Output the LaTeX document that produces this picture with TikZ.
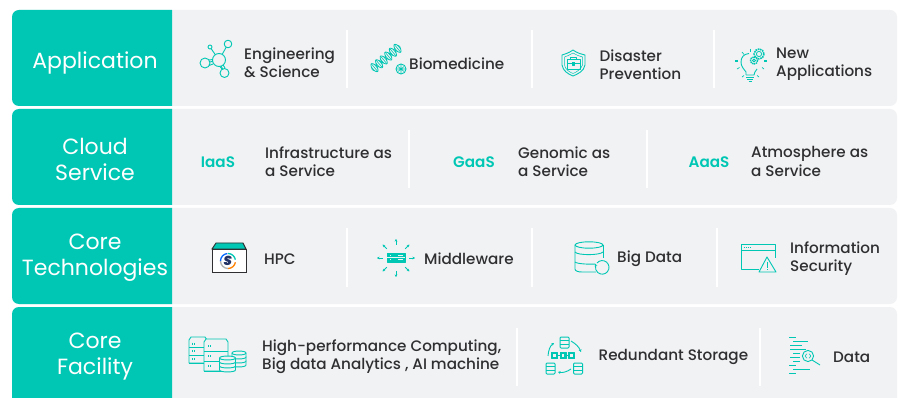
\documentclass[tikz,border=0pt]{standalone}
\usepackage{fontspec}
\setmainfont{Poppins}
\newfontfamily\medf{Poppins Medium}
\newfontfamily\semif{Poppins SemiBold}
\usetikzlibrary{arrows.meta}
\definecolor{tealc}{HTML}{00C7B4}
\definecolor{panel}{HTML}{F1F2F4}
\definecolor{inkc}{HTML}{2F2F31}
\tikzset{
  panelbox/.style={fill=panel,draw=none,rounded corners=7pt},
  headtext/.style={text=white,font=\fontsize{22}{26}\selectfont,align=center,inner sep=0pt},
  itemtext/.style={text=inkc,font=\medf\fontsize{15.2}{18.4}\selectfont,align=left,anchor=west,inner sep=0pt},
  abbrtext/.style={text=tealc,font=\semif\fontsize{15.2}{18}\selectfont,anchor=center,inner sep=0pt},
  sepline/.style={draw=white,line width=1.6pt},
  ico/.style={draw=tealc,line width=0.9pt,fill=none,line join=round},
  icof/.style={draw=tealc,line width=0.9pt,fill=panel,line join=round},
  tinyarrow/.style={draw=tealc,line width=0.9pt,-{Stealth[length=2.6pt,width=2.8pt]}},
}
\newcommand{\srv}[5]{%
  \draw[icof] (#1,#2+3) -- (#1+2,#2) -- (#3-2,#2) -- (#3,#2+3) -- (#3,#4) -- (#1,#4) -- cycle;
  \foreach \k in {0,1,2}{
    \draw[ico,line width=.7pt] (#1,{#2+3+(#4-#2-3)*(\k+1)/3}) -- (#3,{#2+3+(#4-#2-3)*(\k+1)/3});
    \draw[ico,line width=.7pt] (#1+#5,{#2+3+(#4-#2-3)*(\k+.35)/3}) -- ++(0,2) (#1+#5+2,{#2+3+(#4-#2-3)*(\k+.35)/3}) -- ++(0,2);
  }}
% cx, top y, half width, layer height
\newcommand{\dbicon}[4]{%
  \foreach \k in {2,1,0}{
    \pgfmathsetmacro{\yt}{#2+\k*#4}
    \pgfmathsetmacro{\yb}{#2+\k*#4+#4}
    \draw[icof] (#1-#3,\yt) -- (#1-#3,\yb) .. controls (#1-#3,\yb+2.6) and (#1+#3,\yb+2.6) .. (#1+#3,\yb) -- (#1+#3,\yt) .. controls (#1+#3,\yt-2.6) and (#1-#3,\yt-2.6) .. (#1-#3,\yt) -- cycle;
  }
  \draw[ico] (#1-#3,#2) .. controls (#1-#3,#2+2.6) and (#1+#3,#2+2.6) .. (#1+#3,#2);}
\newcommand{\smalldb}[2]{%
  \draw[icof,rounded corners=1pt,line width=1pt] (#1-4.5,#2) rectangle (#1+4.5,#2+11);
  \draw[ico,line width=.9pt] (#1-4.5,#2+3.6) -- (#1+4.5,#2+3.6) (#1-4.5,#2+7.3) -- (#1+4.5,#2+7.3);}
\begin{document}
\begin{tikzpicture}[x=1pt,y=-1pt]
\useasboundingbox (0,0) rectangle (900,398);
\fill[white] (0,0) rectangle (900,398);
\begin{scope}
\clip (0,0) rectangle (900,398);
% rows
\foreach \t/\b in {10/106,109/205,208/304,307/410}{
  \fill[panelbox] (12,\t) rectangle (897,\b);
  \begin{scope}
    \clip (12,\t) rectangle (172,\b);
    \fill[tealc,rounded corners=7pt] (12,\t) rectangle (200,\b);
  \end{scope}
}
\end{scope}
% headings
\node[headtext] (h1) at (95,63) {Application};
\node[headtext] (h2) at (95,159.5) {Cloud\\Service};
\node[headtext] (h3) at (95,258) {Core\\Technologies};
\node[headtext] (h4) at (95,357) {Core\\Facility};
% separators
\foreach \x in {347,532,714} \draw[sepline] (\x,30) -- (\x,88);
\foreach \x in {409,647} \draw[sepline] (\x,130) -- (\x,188);
\foreach \x in {347,532,717} \draw[sepline] (\x,228) -- (\x,287);
\foreach \x in {517,760} \draw[sepline] (\x,328) -- (\x,386);
% row 1 text
\node[itemtext] (t11) at (244,62.5) {Engineering\\\& Science};
\node[itemtext] (t12) at (409,64) {Biomedicine};
\node[itemtext] (t13) at (599.5,64.5) {Disaster\\Prevention};
\node[itemtext] (t14) at (776,64.5) {New\\Applications};
% row 2 text
\node[abbrtext] (a21) at (218,162) {IaaS};
\node[itemtext] (t21) at (265,161.5) {Infrastructure as\\a Service};
\node[abbrtext] (a22) at (474,162) {GaaS};
\node[itemtext] (t22) at (518,161.5) {Genomic as\\a Service};
\node[abbrtext] (a23) at (709,162) {AaaS};
\node[itemtext] (t23) at (751,161.5) {Atmosphere as\\a Service};
% row 3 text
\node[itemtext] (t31) at (264,259) {HPC};
\node[itemtext] (t32) at (424,259) {Middleware};
\node[itemtext] (t33) at (617,259) {Big Data};
\node[itemtext] (t34) at (790,258.5) {Information\\Security};
% row 4 text
\node[itemtext] (t41) at (262,356.5) {High-performance Computing,\\Big data Analytics , AI machine};
\node[itemtext] (t42) at (598.5,357) {Redundant Storage};
\node[itemtext] (t43) at (833,357) {Data};
% molecule
\draw[ico] (219,60) -- (228,44) (219,60) -- (210,47) (219,60) -- (205,63) (219,60) -- (224,73);
\draw[ico] (213,59.5)--(209,60) (213,64)--(209,65.5) (219.5,66)--(222,69) (222.5,64)--(225,68);
\draw[icof] (219,60) circle (6.5) (228,44) circle (3.8) (210,47) circle (2) (205,63) circle (5) (224.5,73) circle (4.5);
% DNA
\begin{scope}[shift={(386,58)},rotate=40]
  \draw[ico,line width=.8pt,domain=-18:18,samples=60,smooth] plot (\x,{5*sin(\x*30)});
  \draw[ico,line width=.8pt,domain=-18:18,samples=60,smooth] plot (\x,{-5*sin(\x*30)});
  \foreach \x in {-17,-15,...,17}
    \draw[ico,line width=.6pt] (\x,{5*sin(\x*30)}) -- (\x,{-5*sin(\x*30)});
\end{scope}
\draw[ico] (401,69) circle (5);
\draw[ico,line width=.6pt] (396,69)--(406,69) (401,64)--(401,74) (398,66.5)--(404,71.5) (404,66.5)--(398,71.5);
% shield
\draw[ico] (573,50) .. controls (577,53) and (581,54) .. (585,55) -- (585,65) .. controls (584,71) and (578,74) .. (573,76) .. controls (568,74) and (563,71) .. (562,65) -- (562,55) .. controls (565,54) and (569,53) .. (573,50) -- cycle;
\draw[ico,line width=.5pt] (573,53) .. controls (576,55) and (579,56) .. (582.5,57) -- (582.5,65) .. controls (581,69) and (577,72) .. (573,73.5) .. controls (569,72) and (565,69) .. (564.5,65) -- (564.5,57) .. controls (567,56) and (570,55) .. (573,53) -- cycle;
\draw[ico] (567,59) rectangle (580,69) (570.5,59) -- (570.5,57) -- (576.5,57) -- (576.5,59) (567,63.5) -- (580,63.5);
\draw[ico,fill=tealc] (572.5,62.5) rectangle (574.5,65);
% bulb
\draw[ico] (746,75) -- (746,72) .. controls (744,69) and (741,67) .. (741,62) .. controls (741,57) and (744,54) .. (749,53.5);
\draw[ico] (757,69) .. controls (755,71) and (754,74) .. (754,75) -- (746,75);
\draw[ico] (746,77) -- (754,77) (747,79) -- (753,79) (748.5,81) -- (751.5,81);
\draw[icof,dash pattern=on 1.6pt off .8pt,line width=1.6pt] (759,54) circle (5);
\draw[ico,line width=.8pt] (759,54) circle (2.6);
\draw[icof,dash pattern=on 1.4pt off .7pt,line width=1.4pt] (754,60.5) circle (3.6);
\draw[ico,line width=.8pt] (754,60.5) circle (1.5);
\draw[ico,line width=.7pt] (742,52)--(744,54.5) (737,69)--(739.5,67.5) (764,69)--(762,67.5) (742,77)--(744,75.5) (759,77)--(757,75.5);
\draw[tealc,line width=1.5pt] (750.5,49)--(750.5,52.5) (738,61)--(735,61) (764,61)--(767,61);
% HPC box
\draw[draw=inkc,line width=.9pt,fill=white] (212,249) rectangle (246,272);
\draw[draw=inkc,line width=.9pt,fill=tealc] (212,249) -- (216,243) -- (243,243) -- (246,249) -- cycle;
\draw[line width=1.3pt,draw=tealc] (228,253.5) arc (-90:-10:7.5);
\draw[line width=1.3pt,draw=orange] (235.4,262.3) arc (10:90:7.5);
\draw[line width=1.3pt,draw=gray!60] (228,268.5) arc (90:180:7.5);
\draw[line width=1.3pt,draw=blue!60!cyan] (220.5,261) arc (180:265:7.5);
\node[inner sep=0pt,xslant=.15,text={rgb,255:red,35;green,50;blue,100},font=\semif\bfseries\fontsize{13}{13}\selectfont] (sglyph) at (228,261) {S};
% middleware
\draw[ico,fill=tealc] (387,253) rectangle (405,262);
\draw[draw=panel,line width=.8pt] (387,257.5) -- (405,257.5);
\draw[draw=panel,line width=.8pt] (390,255.2)--(391,255.2) (398,255.2)--(403,255.2) (390,259.8)--(391,259.8) (398,259.8)--(403,259.8);
\foreach \a in {0,45,...,315}
  \draw[tinyarrow] (396,258) ++(\a:13) -- ++(\a:6);
% big data
\draw[ico] (575,245) -- (575,269) .. controls (575,271) and (578,272) .. (582,272) -- (596,272);
\draw[ico] (603,245) -- (603,258);
\draw[ico] (589,245) ellipse [x radius=14,y radius=3.2];
\draw[ico] (575,252) .. controls (577,255.5) and (600,255.5) .. (603,252);
\draw[ico] (575,262) .. controls (577,264) and (590,264.5) .. (596,264);
\draw[icof,draw=none] (602,267) circle (7.6);
\draw[ico] (597,263) arc (-140:195:6.8);
\draw[tinyarrow] (596,266) -- (595,263.8);
% info security
\draw[ico] (775,258) -- (775,244.5) -- (741,244.5) -- (741,269) -- (759,269);
\draw[ico] (741,250) -- (775,250);
\draw[tealc,line width=.9pt,dash pattern=on 1pt off 1pt] (743.5,247.3) -- (751,247.3);
\draw[icof] (767,257) -- (776,272) -- (759,272) -- cycle;
\draw[ico,line width=.7pt] (767,262) -- (767,268) (767,269.5) -- (767,270.5);
% HPC servers icon
\srv{189}{337}{207}{363}{3}
\srv{204}{339}{228}{371}{4}
\dbicon{239}{353}{7}{4}
\dbicon{227.5}{358}{8}{4}
% redundant storage
\smalldb{564.5}{337}
\smalldb{550.5}{363}
\smalldb{578}{363}
\foreach \x in {551.5,560,568.5}{\draw[ico,fill=tealc,line width=.8pt] (\x,352.5) rectangle (\x+6,358.5);
  \fill[panel] (\x+1.8,354.3) rectangle (\x+4.2,356.7);}
\draw[ico] (557.5,355.5)--(560,355.5) (566,355.5)--(568.5,355.5);
\draw[tinyarrow] (548,356) .. controls (548.5,350) and (550,346) .. (554,343);
\draw[tinyarrow] (571,341) .. controls (576,344) and (579,347) .. (581,352);
\draw[tinyarrow] (571,369) .. controls (567,372) and (562,373) .. (558,372);
% data icon
\draw[ico,line width=.8pt] (789,337.5)--(796,337.5) (793,341)--(808,341) (790,345)--(802,345) (790,349)--(795,349) (793,349)--(806,349);
\draw[ico,line width=.8pt] (793,353)--(800,353) (790,357)--(800,357) (793,361)--(800,361) (789,365)--(796,365) (793,369)--(810,369) (789,373)--(796,373);
\draw[ico] (808,356) circle (5.6);
\draw[ico] (812,360) -- (820,365);
\draw[ico,line width=.6pt] (807,353.7)--(805,356)--(807,358.3) (809,353.7)--(811,356)--(809,358.3);
\end{tikzpicture}
\end{document}
